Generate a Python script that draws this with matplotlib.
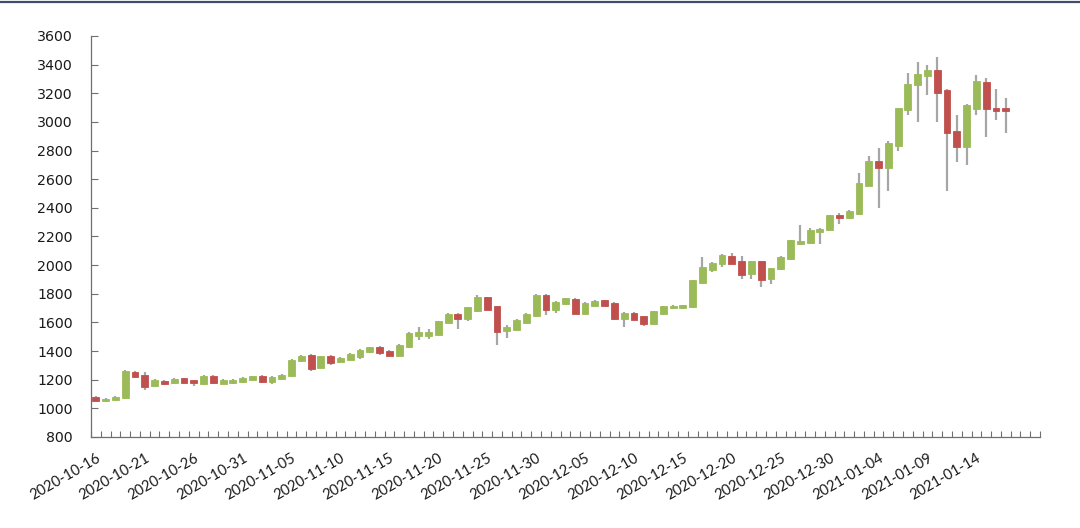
import matplotlib
matplotlib.use("Agg")
import matplotlib.pyplot as plt
from matplotlib.lines import Line2D
from matplotlib.ticker import FixedLocator
import pandas as pd
import numpy as np

start_date = "2020-10-16"
axis_days = 97  # date axis spans through 2021-01-20

opens = [1080, 1048, 1055, 1070, 1255, 1235, 1155, 1190, 1178, 1210,
         1195, 1170, 1225, 1172, 1175, 1185, 1200, 1225, 1185, 1205,
         1225, 1330, 1375, 1285, 1365, 1325, 1340, 1358, 1395, 1428,
         1400, 1368, 1425, 1503, 1505, 1515, 1598, 1660, 1625, 1678,
         1775, 1712, 1538, 1545, 1598, 1645, 1795, 1685, 1730, 1765,
         1662, 1718, 1755, 1735, 1625, 1665, 1642, 1592, 1660, 1700,
         1700, 1705, 1878, 1968, 2005, 2062, 2030, 1935, 2030, 1900,
         1970, 2040, 2150, 2155, 2230, 2248, 2350, 2330, 2355, 2555,
         2725, 2680, 2830, 3080, 3255, 3320, 3360, 3225, 2940, 2825,
         3090, 3280, 3100, 3100]
highs = [1085, 1070, 1085, 1265, 1262, 1255, 1205, 1195, 1210, 1215,
         1200, 1232, 1232, 1205, 1203, 1222, 1228, 1230, 1225, 1240,
         1345, 1372, 1380, 1368, 1370, 1358, 1385, 1412, 1428, 1432,
         1405, 1447, 1530, 1570, 1555, 1612, 1665, 1666, 1710, 1795,
         1780, 1716, 1580, 1625, 1665, 1798, 1800, 1748, 1772, 1770,
         1740, 1755, 1760, 1740, 1672, 1670, 1646, 1682, 1715, 1722,
         1725, 1898, 2055, 2020, 2080, 2083, 2065, 2032, 2032, 1982,
         2065, 2178, 2280, 2262, 2258, 2352, 2365, 2382, 2640, 2765,
         2820, 2870, 3100, 3345, 3420, 3400, 3450, 3230, 3050, 3122,
         3330, 3310, 3230, 3165]
lows = [1048, 1042, 1050, 1065, 1212, 1125, 1150, 1165, 1172, 1175,
        1155, 1165, 1168, 1168, 1170, 1180, 1195, 1175, 1168, 1200,
        1220, 1325, 1262, 1280, 1300, 1320, 1335, 1345, 1390, 1370,
        1365, 1365, 1420, 1480, 1485, 1510, 1595, 1555, 1610, 1675,
        1685, 1445, 1490, 1540, 1594, 1640, 1650, 1668, 1725, 1658,
        1658, 1705, 1712, 1620, 1570, 1615, 1575, 1588, 1655, 1695,
        1695, 1700, 1872, 1950, 1985, 2005, 1900, 1905, 1850, 1870,
        1965, 2035, 2140, 2150, 2145, 2243, 2285, 2325, 2350, 2550,
        2400, 2520, 2795, 3050, 3000, 3190, 3000, 2515, 2720, 2700,
        3050, 2895, 3015, 2925]
closes = [1052, 1066, 1080, 1260, 1220, 1150, 1200, 1170, 1205, 1180,
          1175, 1225, 1175, 1200, 1200, 1215, 1225, 1185, 1220, 1235,
          1340, 1365, 1275, 1365, 1320, 1355, 1380, 1410, 1425, 1385,
          1368, 1445, 1528, 1533, 1530, 1608, 1662, 1625, 1705, 1778,
          1690, 1535, 1565, 1620, 1660, 1795, 1685, 1745, 1768, 1660,
          1738, 1750, 1718, 1625, 1668, 1620, 1592, 1678, 1712, 1718,
          1722, 1895, 1988, 2018, 2068, 2008, 1932, 2030, 1898, 1980,
          2060, 2175, 2172, 2243, 2255, 2348, 2330, 2378, 2575, 2725,
          2680, 2855, 3100, 3268, 3335, 3360, 3205, 2925, 2825, 3120,
          3285, 3090, 3075, 3078]

y_ticks = [800, 1000, 1200, 1400, 1600, 1800, 2000, 2200, 2400, 2600,
           2800, 3000, 3200, 3400, 3600]

UP = "#9BBB59"
DOWN = "#C0504D"
WICK = "#A6A6A6"

dates = pd.date_range(start_date, periods=len(opens), freq="D")
axis_dates = pd.date_range(start_date, periods=axis_days, freq="D")
x = np.arange(len(opens))

fig = plt.figure(figsize=(10.8, 5.28), dpi=100)
ax = fig.add_axes([91 / 1080, 1 - 437 / 528, (1040 - 91) / 1080, (437 - 36) / 528])

o = np.array(opens, float)
c = np.array(closes, float)
h = np.array(highs, float)
l = np.array(lows, float)
up = c >= o
colors = np.where(up, UP, DOWN)

ax.vlines(x, l, h, color=WICK, linewidth=1.6, zorder=1)
bottoms = np.minimum(o, c)
heights = np.maximum(np.abs(c - o), 6)
ax.bar(x, heights, bottom=bottoms, width=0.7, color=colors,
       edgecolor=colors, linewidth=0.6, zorder=2)

ax.set_xlim(-0.5, axis_days - 0.5)
ax.set_ylim(800, 3600)
ax.set_yticks(y_ticks)
ax.set_yticklabels([str(v) for v in y_ticks], fontsize=10.2,
                   family="DejaVu Sans", color="#1a1a1a")

label_idx = [i for i in range(0, len(axis_dates), 5) if i <= 90]
ax.xaxis.set_major_locator(FixedLocator(label_idx))
ax.set_xticklabels([axis_dates[i].strftime("%Y-%m-%d") for i in label_idx],
                   rotation=30, ha="right", rotation_mode="anchor",
                   fontsize=10.5, family="Lato", color="#1a1a1a")
ax.xaxis.set_minor_locator(FixedLocator(np.arange(-0.5, axis_days, 1.0)))
ax.tick_params(axis="x", which="major", length=0, pad=10)
ax.tick_params(axis="x", which="minor", direction="in", length=4,
               width=0.8, color="#6f6f6f")
ax.tick_params(axis="y", direction="in", length=5, width=0.8,
               color="#6f6f6f", pad=13)

for s in ["top", "right"]:
    ax.spines[s].set_visible(False)
for s in ["left", "bottom"]:
    ax.spines[s].set_color("#6f6f6f")
    ax.spines[s].set_linewidth(0.9)

fig.add_artist(Line2D([0, 1], [1 - 2 / 528, 1 - 2 / 528],
                      transform=fig.transFigure, color="#3F4F6B",
                      linewidth=1.6))

fig.savefig("out.png", dpi=100, facecolor="white")
